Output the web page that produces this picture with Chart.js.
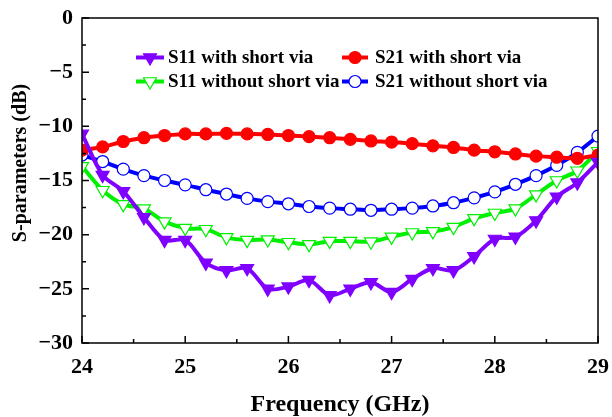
<!DOCTYPE html>
<html>
<head>
<meta charset="utf-8">
<script src="https://cdn.jsdelivr.net/npm/chart.js@4/dist/chart.umd.min.js"></script>
<style>
  html, body { margin: 0; padding: 0; background: #fff; }
  #wrap { width: 612px; height: 417px; }
</style>
</head>
<body>
<div id="wrap"><canvas id="sparam-chart" width="612" height="417"></canvas></div>
<script>
// Data (GHz, dB)
const freq = [24.0, 24.2, 24.4, 24.6, 24.8, 25.0, 25.2, 25.4, 25.6, 25.8, 26.0, 26.2, 26.4,
              26.6, 26.8, 27.0, 27.2, 27.4, 27.6, 27.8, 28.0, 28.2, 28.4, 28.6, 28.8, 29.0];
const s11With = [-10.7, -14.5, -16.0, -18.4, -20.5, -20.5, -22.6, -23.3, -23.1, -25.0, -24.8, -24.2, -25.6,
                 -25.0, -24.4, -25.3, -24.1, -23.1, -23.3, -22.0, -20.4, -20.2, -18.7, -16.5, -15.2, -13.3];
const s21With = [-12.2, -11.9, -11.4, -11.05, -10.85, -10.7, -10.7, -10.65, -10.7, -10.75, -10.85, -10.95, -11.05,
                 -11.2, -11.35, -11.45, -11.6, -11.8, -11.95, -12.2, -12.35, -12.55, -12.75, -12.85, -12.95, -12.65];
const s11Without = [-13.7, -15.9, -17.2, -17.6, -18.8, -19.4, -19.5, -20.25, -20.5, -20.45, -20.7, -20.9, -20.6,
                    -20.6, -20.65, -20.2, -19.8, -19.7, -19.3, -18.5, -18.0, -17.6, -16.3, -15.0, -14.1, -12.3];
const s21Without = [-12.65, -13.25, -13.95, -14.55, -15.0, -15.4, -15.85, -16.25, -16.65, -16.95, -17.15, -17.4, -17.55,
                    -17.65, -17.75, -17.65, -17.55, -17.35, -17.05, -16.6, -16.05, -15.35, -14.55, -13.6, -12.4, -10.9];

const xMajor = [24, 25, 26, 27, 28, 29];
const xMinor = [24.5, 25.5, 26.5, 27.5, 28.5];
const yMajor = [0, -5, -10, -15, -20, -25, -30];
const yMinor = [-2.5, -7.5, -12.5, -17.5, -22.5, -27.5];

const FONT = "'Liberation Serif', 'Times New Roman', serif";

function pts(ys) {
    return freq.map((f, i) => ({ x: f, y: ys[i] }));
}

// series styles (also used by the legend)
const series = [
    { label: "S11 with short via", data: s11With, color: "#8000ff", style: "triangle", rot: 180, fill: "#8000ff", r: 7.5 },
    { label: "S21 with short via", data: s21With, color: "#ff0000", style: "circle", rot: 0, fill: "#ff0000", r: 6 },
    { label: "S11 without short via", data: s11Without, color: "#00f000", style: "triangle", rot: 180, fill: "#ffffff", r: 7.5 },
    { label: "S21 without short via", data: s21Without, color: "#0000ff", style: "circle", rot: 0, fill: "#ffffff", r: 6 }
];

// box, inward ticks, custom legend and y title
const framePlugin = {
    id: "frame",
    afterDatasetsDraw(chart) {
        const ctx = chart.ctx;
        const a = chart.chartArea;
        const xs = chart.scales.x, ys = chart.scales.y;
        ctx.save();
        ctx.strokeStyle = "#000";
        ctx.lineWidth = 1.5;
        ctx.strokeRect(a.left, a.top, a.right - a.left, a.bottom - a.top);
        ctx.beginPath();
        xMajor.forEach(v => { const p = xs.getPixelForValue(v); ctx.moveTo(p, a.bottom); ctx.lineTo(p, a.bottom - 7); });
        xMinor.forEach(v => { const p = xs.getPixelForValue(v); ctx.moveTo(p, a.bottom); ctx.lineTo(p, a.bottom - 4); });
        yMajor.forEach(v => { const p = ys.getPixelForValue(v); ctx.moveTo(a.left, p); ctx.lineTo(a.left + 7, p); });
        yMinor.forEach(v => { const p = ys.getPixelForValue(v); ctx.moveTo(a.left, p); ctx.lineTo(a.left + 4, p); });
        ctx.stroke();

        // legend
        const rows = [57.5, 81.5];
        const cols = [{ x0: 136, x1: 164, tx: 168 }, { x0: 342, x1: 368, tx: 375 }];
        ctx.font = "bold 19px " + FONT;
        ctx.textBaseline = "middle";
        ctx.textAlign = "left";
        series.forEach((s, n) => {
            const c = cols[n % 2], y = rows[Math.floor(n / 2)];
            ctx.strokeStyle = s.color;
            ctx.lineWidth = 4;
            ctx.beginPath();
            ctx.moveTo(c.x0, y);
            ctx.lineTo(c.x1, y);
            ctx.stroke();
            ctx.fillStyle = s.fill;
            ctx.lineWidth = 1.2;
            Chart.helpers.drawPoint(ctx, { pointStyle: s.style, radius: s.r, rotation: s.rot, borderWidth: 1.2 },
                (c.x0 + c.x1) / 2, y);
            ctx.fillStyle = "#000";
            ctx.fillText(s.label, c.tx, y + 1);
        });

        // y axis title
        ctx.translate(21, 163);
        ctx.rotate(-Math.PI / 2);
        ctx.textAlign = "center";
        ctx.font = "bold 20px " + FONT;
        ctx.fillStyle = "#000";
        ctx.fillText("S-parameters (dB)", 0, 0);
        ctx.restore();
    }
};

const minus = v => String(v).replace("-", "\u2212");

new Chart(document.getElementById("sparam-chart").getContext("2d"), {
    type: "line",
    data: {
        datasets: series.map(s => ({
            label: s.label,
            data: pts(s.data),
            borderColor: s.color,
            backgroundColor: s.fill,
            borderWidth: 4,
            tension: 0.3,
            pointStyle: s.style,
            rotation: s.rot,
            radius: s.r,
            pointBackgroundColor: s.fill,
            pointBorderColor: s.color,
            pointBorderWidth: 1.2,
            fill: false
        }))
    },
    options: {
        responsive: false,
        animation: false,
        events: [],
        layout: { padding: { top: 18, right: 14, left: 0, bottom: 0 } },
        plugins: { legend: { display: false }, tooltip: { enabled: false } },
        scales: {
            x: {
                type: "linear",
                min: 24,
                max: 29,
                afterFit: s => { s.height = 74; s.paddingLeft = 0; s.paddingRight = 0; },
                grid: { display: false, drawTicks: false },
                border: { display: false },
                ticks: {
                    stepSize: 1,
                    padding: 11,
                    color: "#000",
                    font: { family: FONT, size: 22, weight: "bold" },
                    maxRotation: 0
                },
                title: {
                    display: true,
                    text: "Frequency (GHz)",
                    color: "#000",
                    font: { family: FONT, size: 24, weight: "bold", lineHeight: 1.0 },
                    padding: 0
                }
            },
            y: {
                min: -30,
                max: 0,
                afterFit: s => { s.width = 82; s.paddingTop = 0; s.paddingBottom = 0; },
                grid: { display: false, drawTicks: false },
                border: { display: false },
                ticks: {
                    stepSize: 5,
                    padding: 9,
                    color: "#000",
                    font: { family: FONT, size: 22, weight: "bold" },
                    callback: v => minus(v)
                }
            }
        }
    },
    plugins: [framePlugin]
});
</script>
</body>
</html>
